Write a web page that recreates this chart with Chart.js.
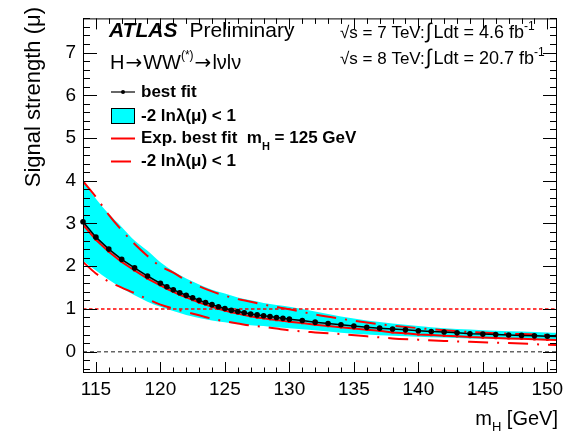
<!DOCTYPE html>
<html>
<head>
<meta charset="utf-8">
<script src="https://cdn.jsdelivr.net/npm/chart.js@4.4.1/dist/chart.umd.min.js"></script>
<style>
  html, body { margin: 0; padding: 0; background: #fff; }
  canvas { display: block; }
</style>
</head>
<body>
<canvas id="chart" width="576" height="435"></canvas>
<script>
// best fit scan, fine mass grid
const fitMass = [114, 115, 116, 117, 118, 119, 120, 120.5, 121, 121.5, 122, 122.5, 123, 123.5,
  124, 124.5, 125, 125.5, 126, 126.5, 127, 127.5, 128, 128.5, 129, 129.5, 130, 131, 132, 133,
  134, 135, 136, 137, 138, 139, 140, 141, 142, 143, 144, 145, 146, 147, 148, 149, 150, 151];
const bestFit = [3.04, 2.68, 2.40, 2.16, 1.96, 1.77, 1.60, 1.52, 1.45, 1.38, 1.32, 1.26, 1.20, 1.15,
  1.10, 1.05, 1.01, 0.97, 0.94, 0.91, 0.88, 0.86, 0.84, 0.82, 0.80, 0.78, 0.76, 0.73, 0.69, 0.66,
  0.63, 0.60, 0.57, 0.55, 0.53, 0.51, 0.49, 0.47, 0.46, 0.44, 0.42, 0.41, 0.40, 0.39, 0.38, 0.37, 0.36, 0.35];
const expFit = [2.97, 2.62, 2.34, 2.10, 1.90, 1.71, 1.55, 1.47, 1.40, 1.33, 1.27, 1.21, 1.15, 1.10,
  1.05, 1.00, 0.96, 0.92, 0.89, 0.86, 0.83, 0.80, 0.78, 0.76, 0.74, 0.72, 0.70, 0.67, 0.63, 0.60,
  0.57, 0.54, 0.51, 0.49, 0.45, 0.43, 0.40, 0.39, 0.37, 0.36, 0.34, 0.33, 0.32, 0.31, 0.30, 0.29, 0.28, 0.27];

// -2 ln lambda < 1 band (observed) and expected, coarse mass grid
const bandMass = [114, 115, 116, 117, 118, 119, 120, 121, 122, 123, 124, 125, 126, 127, 128, 129, 130,
  132, 134, 136, 138, 140, 142, 144, 146, 148, 150, 151];
const bandUp = [4.00, 3.58, 3.22, 2.92, 2.60, 2.36, 2.09, 1.88, 1.71, 1.57, 1.45, 1.36, 1.27, 1.20, 1.14, 1.09, 1.05,
  0.94, 0.82, 0.73, 0.66, 0.60, 0.55, 0.52, 0.49, 0.47, 0.45, 0.44];
const bandDown = [2.13, 1.90, 1.68, 1.49, 1.32, 1.17, 1.05, 0.95, 0.86, 0.79, 0.73, 0.69, 0.65, 0.62, 0.60, 0.57, 0.55,
  0.50, 0.44, 0.40, 0.37, 0.35, 0.33, 0.31, 0.30, 0.29, 0.28, 0.28];
const expUp = [3.99, 3.62, 3.20, 2.84, 2.52, 2.24, 2.00, 1.85, 1.67, 1.53, 1.41, 1.31, 1.23, 1.17, 1.10, 1.05, 0.99,
  0.87, 0.77, 0.68, 0.61, 0.55, 0.50, 0.46, 0.43, 0.41, 0.39, 0.38];
const expDown = [2.10, 1.83, 1.64, 1.50, 1.37, 1.23, 1.10, 1.01, 0.93, 0.85, 0.77, 0.71, 0.66, 0.61, 0.58, 0.54, 0.50,
  0.45, 0.41, 0.36, 0.31, 0.28, 0.25, 0.23, 0.21, 0.19, 0.16, 0.15];

const xTicks = [115, 120, 125, 130, 135, 140, 145, 150];
const yTicks = [0, 1, 2, 3, 4, 5, 6, 7];
const X_MIN = 114, X_MAX = 150.75, Y_MIN = -0.5, Y_MAX = 7.8;

const SANS = "'Liberation Sans', Arial, sans-serif";
const ARROW = "'DejaVu Sans', sans-serif";
const pts = (xs, ys) => xs.map((x, i) => ({ x: x, y: ys[i] }));
const flat = (v) => [{ x: X_MIN, y: v }, { x: X_MAX, y: v }];
const dashDot = [20, 9, 2, 9];

// draw a row of text pieces one after another
function runs(ctx, x, y, parts) {
  for (const p of parts) {
    ctx.font = p.f;
    ctx.fillText(p.t, x, y + (p.dy || 0));
    x += ctx.measureText(p.t).width + (p.gap || 0);
  }
  return x;
}

const frame = {
  id: "frame",
  afterDatasetsDraw(chart) {
    const { ctx, chartArea: a, scales: { x, y } } = chart;
    ctx.save();
    ctx.strokeStyle = "#000";
    ctx.lineWidth = 1;
    ctx.beginPath();
    for (let m = 114; m <= 150; m++) {
      const px = Math.round(x.getPixelForValue(m)) + 0.5;
      const len = m % 5 === 0 ? 11 : 5.5;
      ctx.moveTo(px, a.bottom); ctx.lineTo(px, a.bottom - len);
      ctx.moveTo(px, a.top); ctx.lineTo(px, a.top + len);
    }
    for (let k = -2; k <= 39; k++) {
      const py = Math.round(y.getPixelForValue(k / 5)) + 0.5;
      const len = k % 5 === 0 ? 14 : 7;
      ctx.moveTo(a.left, py); ctx.lineTo(a.left + len, py);
      ctx.moveTo(a.right, py); ctx.lineTo(a.right - len, py);
    }
    ctx.stroke();
    ctx.strokeRect(a.left + 0.5, a.top + 0.5, a.right - a.left - 1, a.bottom - a.top - 1);
    ctx.restore();
  },
  afterDraw(chart) {
    const ctx = chart.ctx;
    ctx.save();
    ctx.fillStyle = "#000";
    ctx.textBaseline = "alphabetic";

    // axis titles
    ctx.save();
    ctx.translate(34, 7);
    ctx.rotate(-Math.PI / 2);
    ctx.textAlign = "right";
    ctx.textBaseline = "middle";
    ctx.font = "22px " + SANS;
    ctx.fillText("Signal strength (\u03bc)", 0, 0);
    ctx.restore();

    ctx.font = "20px " + SANS;
    const tail = " [GeV]";
    const wTail = ctx.measureText(tail).width;
    ctx.font = "13px " + SANS;
    const wSub = ctx.measureText("H").width;
    ctx.font = "20px " + SANS;
    const wM = ctx.measureText("m").width;
    runs(ctx, 558 - wTail - wSub - wM, 425, [
      { t: "m", f: "20px " + SANS },
      { t: "H", f: "13px " + SANS, dy: 6 },
      { t: tail, f: "20px " + SANS }
    ]);

    // labels
    runs(ctx, 109, 37, [
      { t: "ATLAS", f: "italic bold 21px " + SANS, gap: 12 },
      { t: "Preliminary", f: "21px " + SANS }
    ]);
    runs(ctx, 110, 69, [
      { t: "H", f: "20px " + SANS, gap: 1 },
      { t: "\u2192", f: "20px " + ARROW, gap: 1 },
      { t: "WW", f: "20px " + SANS },
      { t: "(*)", f: "12px " + SANS, dy: -10, gap: 1 },
      { t: "\u2192", f: "20px " + ARROW, gap: 1 },
      { t: "l\u03bdl\u03bd", f: "20px " + SANS }
    ]);
    const lumi = [["7", "4.6"], ["8", "20.7"]];
    lumi.forEach((l, i) => {
      const yb = 38 + i * 26;
      runs(ctx, 340, yb, [
        { t: "\u221As = " + l[0] + " TeV:", f: "17px " + SANS, gap: 1 },
        { t: "\u222B", f: "21px " + SANS, gap: 2 },
        { t: "Ldt = " + l[1] + " fb", f: "18px " + SANS },
        { t: "-1", f: "12px " + SANS, dy: -8 }
      ]);
    });

    // legend
    const lx0 = 111, lx1 = 135, tx = 141;
    const B = "bold 17px " + SANS;
    ctx.textBaseline = "middle";
    ctx.strokeStyle = "#000";
    ctx.lineWidth = 1.2;
    ctx.beginPath(); ctx.moveTo(lx0, 92); ctx.lineTo(lx1, 92); ctx.stroke();
    ctx.beginPath(); ctx.arc((lx0 + lx1) / 2, 92, 2, 0, Math.PI * 2); ctx.fill();
    runs(ctx, tx, 92, [{ t: "best fit", f: B }]);

    ctx.fillStyle = "#00ffff";
    ctx.fillRect(lx0, 108, lx1 - lx0, 15);
    ctx.strokeStyle = "#000";
    ctx.lineWidth = 1;
    ctx.strokeRect(lx0 + 0.5, 108.5, lx1 - lx0 - 1, 15);
    ctx.fillStyle = "#000";
    runs(ctx, tx, 116, [{ t: "-2 ln\u03bb(\u03bc) < 1", f: B }]);

    ctx.strokeStyle = "#ff0000";
    ctx.lineWidth = 2;
    ctx.beginPath(); ctx.moveTo(lx0, 138.5); ctx.lineTo(lx1, 138.5); ctx.stroke();
    runs(ctx, tx, 138, [
      { t: "Exp. best fit  m", f: B },
      { t: "H", f: "bold 11px " + SANS, dy: 9 },
      { t: " = 125 GeV", f: B }
    ]);

    ctx.setLineDash(dashDot);
    ctx.beginPath(); ctx.moveTo(lx0, 161.5); ctx.lineTo(lx1, 161.5); ctx.stroke();
    ctx.setLineDash([]);
    runs(ctx, tx, 161, [{ t: "-2 ln\u03bb(\u03bc) < 1", f: B }]);
    ctx.restore();
  }
};

new Chart(document.getElementById("chart"), {
  type: "line",
  data: {
    datasets: [
      {
        label: "best fit",
        data: pts(fitMass, bestFit),
        borderColor: "#000",
        borderWidth: 1.5,
        pointRadius: 2.8,
        pointBackgroundColor: "#000",
        pointBorderWidth: 0,
        clip: { left: 3, right: 0, top: 0, bottom: 0 },
        order: 0
      },
      {
        label: "Exp. best fit",
        data: pts(fitMass, expFit),
        borderColor: "#ff0000",
        borderWidth: 2,
        pointStyle: "rect",
        pointRadius: 1.7,
        pointBackgroundColor: "#ff0000",
        pointBorderWidth: 0,
        order: 1
      },
      {
        label: "exp up",
        data: pts(bandMass, expUp),
        borderColor: "#ff0000",
        borderWidth: 2,
        borderDash: dashDot,
        pointRadius: 0,
        cubicInterpolationMode: "monotone",
        order: 2
      },
      {
        label: "exp down",
        data: pts(bandMass, expDown),
        borderColor: "#ff0000",
        borderWidth: 2,
        borderDash: dashDot,
        pointRadius: 0,
        cubicInterpolationMode: "monotone",
        order: 2
      },
      {
        label: "mu = 1",
        data: flat(1),
        borderColor: "#ff0000",
        borderWidth: 1.5,
        borderDash: [3.5, 2.5],
        pointRadius: 0,
        order: 3
      },
      {
        label: "mu = 0",
        data: flat(0),
        borderColor: "#666666",
        borderWidth: 1.5,
        borderDash: [4, 3],
        pointRadius: 0,
        order: 3
      },
      {
        label: "band down",
        data: pts(bandMass, bandDown),
        borderWidth: 0,
        pointRadius: 0,
        fill: false,
        cubicInterpolationMode: "monotone",
        order: 5
      },
      {
        label: "band up",
        data: pts(bandMass, bandUp),
        borderWidth: 0,
        pointRadius: 0,
        backgroundColor: "#00ffff",
        fill: "-1",
        cubicInterpolationMode: "monotone",
        order: 4
      }
    ]
  },
  options: {
    responsive: false,
    animation: false,
    devicePixelRatio: 1,
    layout: { padding: { left: 0, right: 19, top: 8, bottom: 0 } },
    plugins: { legend: { display: false }, tooltip: { enabled: false } },
    scales: {
      x: {
        type: "linear",
        min: X_MIN,
        max: X_MAX,
        grid: { display: false, drawTicks: false },
        border: { display: false },
        afterBuildTicks: (s) => { s.ticks = xTicks.map((v) => ({ value: v })); },
        afterFit: (s) => { s.height = 62; },
        ticks: { autoSkip: false, maxRotation: 0, padding: 5, color: "#000", font: { family: SANS, size: 19 } }
      },
      y: {
        type: "linear",
        min: Y_MIN,
        max: Y_MAX,
        grid: { display: false, drawTicks: false },
        border: { display: false },
        afterBuildTicks: (s) => { s.ticks = yTicks.map((v) => ({ value: v })); },
        afterFit: (s) => { s.width = 83; },
        ticks: { padding: 7, color: "#000", font: { family: SANS, size: 19 } }
      }
    }
  },
  plugins: [frame]
});
</script>
</body>
</html>
